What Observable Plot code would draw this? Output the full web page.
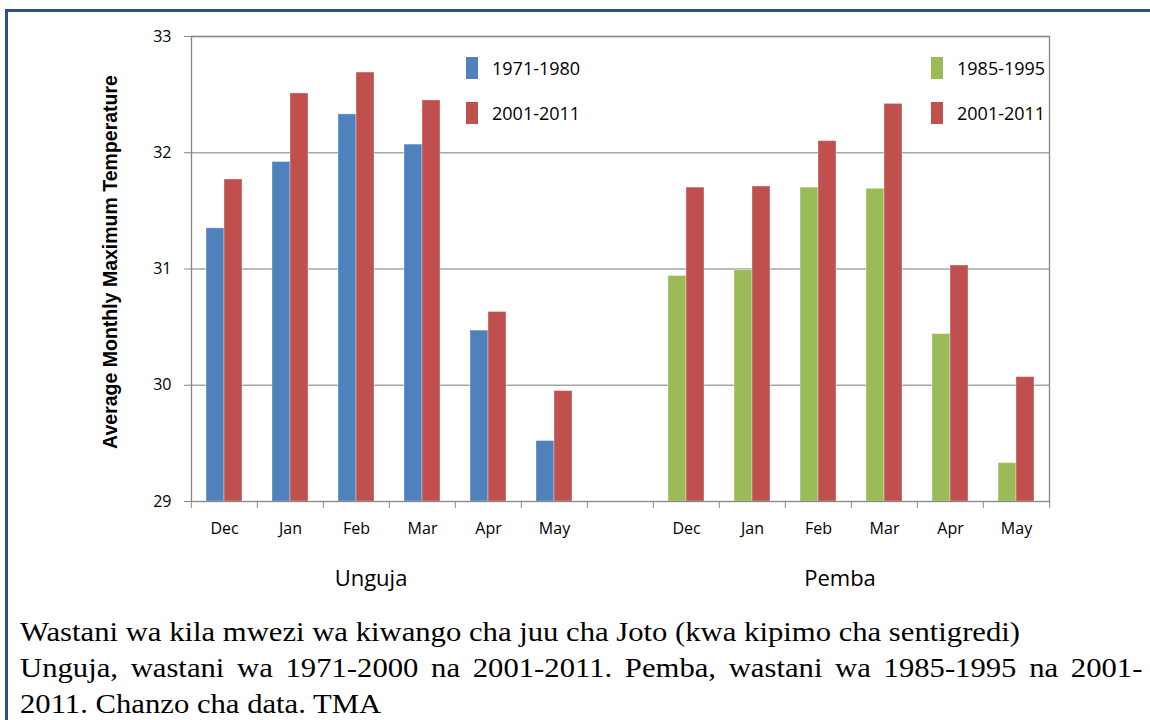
<!DOCTYPE html>
<html>
<head>
<meta charset="utf-8">
<script src="https://cdn.jsdelivr.net/npm/d3@7"></script>
<script src="https://cdn.jsdelivr.net/npm/@observablehq/plot@0.6"></script>
<style>
  html, body { margin: 0; padding: 0; background: #fff; }
  #wrap { position: relative; width: 1150px; height: 720px; overflow: hidden; background: #fff; }
  #border { position: absolute; left: 5px; top: 9px; width: 1200px; height: 800px;
            border-top: 3px solid #2c5282; border-left: 3px solid #2c5282; box-sizing: border-box; }
  #chart { position: absolute; left: 0; top: 0; }
  .sans { font-family: "Open Sans", sans-serif; color: #000; }
  .ylabel { position: absolute; left: 110px; top: 262px; transform: translate(-50%, -50%) rotate(-90deg);
            font-family: "Liberation Sans", Arial, sans-serif; font-weight: bold; font-size: 19.5px; white-space: nowrap; }
  .group { position: absolute; top: 577px; transform: translate(-50%, -50%); font-size: 22px; white-space: nowrap; }
  .leg { position: absolute; display: flex; align-items: center; font-size: 18px; white-space: nowrap; }
  .leg .sw { width: 12px; height: 22px; margin-right: 14px; }
  #caption { position: absolute; left: 20px; top: 614px; width: 988px; font-family: "Liberation Serif", "Times New Roman", serif;
             font-size: 27px; line-height: 36px; color: #000; transform: scaleX(1.136); transform-origin: 0 0; }
  #caption p { margin: 0; text-align: justify; }
</style>
</head>
<body>
<div id="wrap">
  <div id="border"></div>
  <div id="chart"></div>
  <div class="ylabel" id="ylabel"></div>
  <div class="group sans" id="g1" style="left:371px"></div>
  <div class="group sans" id="g2" style="left:840px"></div>
  <div class="leg sans" id="l1" style="left:466px; top:56px"></div>
  <div class="leg sans" id="l2" style="left:466px; top:101px"></div>
  <div class="leg sans" id="l3" style="left:931px; top:56px"></div>
  <div class="leg sans" id="l4" style="left:931px; top:101px"></div>
  <div id="caption"></div>
</div>
<script>
// ---- data ----
const months = ["Dec", "Jan", "Feb", "Mar", "Apr", "May"];
const groups = ["Unguja", "Pemba"];
const ungujaOld = [31.35, 31.92, 32.33, 32.07, 30.47, 29.52];   // 1971-1980
const ungujaNew = [31.77, 32.51, 32.69, 32.45, 30.63, 29.95];   // 2001-2011
const pembaOld  = [30.94, 30.99, 31.70, 31.69, 30.44, 29.33];   // 1985-1995
const pembaNew  = [31.70, 31.71, 32.10, 32.42, 31.03, 30.07];   // 2001-2011
const seriesLabels = ["1971-1980", "1985-1995", "2001-2011"];
const seriesColors = ["#4f81bd", "#9bbb59", "#c0504d"];
const yTicks = [29, 30, 31, 32, 33];
const yTitle = "Average Monthly Maximum Temperature";
const captionLine1 = "Wastani wa kila mwezi wa kiwango cha juu cha Joto (kwa kipimo cha sentigredi)";
const captionLine2 = "Unguja, wastani wa 1971-2000 na 2001-2011. Pemba, wastani wa 1985-1995 na 2001-2011. Chanzo cha data. TMA";

// ---- table ----
const slots = [...months.map(m => "Unguja|" + m), "gap", ...months.map(m => "Pemba|" + m)];
const rows = [];
months.forEach((m, i) => {
  rows.push({slot: "Unguja|" + m, pos: "old", label: "1971-1980", value: ungujaOld[i]});
  rows.push({slot: "Unguja|" + m, pos: "new", label: "2001-2011", value: ungujaNew[i]});
});
rows.push({slot: "gap", pos: "old", label: "2001-2011", value: null}); // empty separator category
months.forEach((m, i) => {
  rows.push({slot: "Pemba|" + m, pos: "old", label: "1985-1995", value: pembaOld[i]});
  rows.push({slot: "Pemba|" + m, pos: "new", label: "2001-2011", value: pembaNew[i]});
});

const W = 1150, H = 600, ML = 188, MR = 99, MT = 36, MB = 99;
const step = (W - ML - MR) / slots.length;
const axisColor = "#868686";
const monthOf = d => d === "gap" ? "" : d.split("|")[1];

const chart = Plot.plot({
  width: W, height: H,
  marginLeft: ML, marginRight: MR, marginTop: MT, marginBottom: MB,
  style: {fontFamily: "Open Sans, sans-serif", fontSize: "16px", color: "#000", background: "transparent"},
  fx: {domain: slots, padding: 0, axis: null, label: null},
  x: {domain: ["old", "new"], paddingInner: 0, paddingOuter: 0.75, axis: null, label: null},
  y: {domain: [29, 33], axis: null, label: null},
  color: {domain: seriesLabels, range: seriesColors},
  marks: [
    Plot.gridY(yTicks.slice(1), {stroke: "#a6a6a6", strokeOpacity: 1, strokeWidth: 1.3}),
    Plot.barY(rows, {fx: "slot", x: "pos", y1: 29, y2: "value", fill: "label",
                     stroke: "#ffffff", strokeOpacity: 0.35, strokeWidth: 1}),
    Plot.frame({facet: "super", stroke: axisColor, strokeWidth: 1.3}),
    Plot.axisY({ticks: yTicks, tickSize: 7, tickPadding: 13, stroke: axisColor, fontSize: 16, label: null, tickFormat: d => String(d)}),
    Plot.axisFx({anchor: "bottom", tickSize: 0, tickPadding: 21, fontSize: 16, label: null, tickFormat: monthOf}),
    Plot.axisFx({anchor: "bottom", tickSize: 7, stroke: axisColor, label: null, tickFormat: () => "", dx: -step / 2}),
    Plot.axisFx({anchor: "bottom", ticks: [slots[slots.length - 1]], tickSize: 7, stroke: axisColor, label: null, tickFormat: () => "", dx: step / 2})
  ]
});
document.getElementById("chart").appendChild(chart);

// ---- texts ----
document.getElementById("ylabel").textContent = yTitle;
document.getElementById("g1").textContent = groups[0];
document.getElementById("g2").textContent = groups[1];
function legend(id, label) {
  const el = document.getElementById(id);
  const sw = document.createElement("span");
  sw.className = "sw";
  sw.style.background = seriesColors[seriesLabels.indexOf(label)];
  el.appendChild(sw);
  el.appendChild(document.createTextNode(label));
}
legend("l1", "1971-1980");
legend("l2", "2001-2011");
legend("l3", "1985-1995");
legend("l4", "2001-2011");
const cap = document.getElementById("caption");
[captionLine1, captionLine2].forEach(t => { const p = document.createElement("p"); p.textContent = t; cap.appendChild(p); });
</script>
</body>
</html>
